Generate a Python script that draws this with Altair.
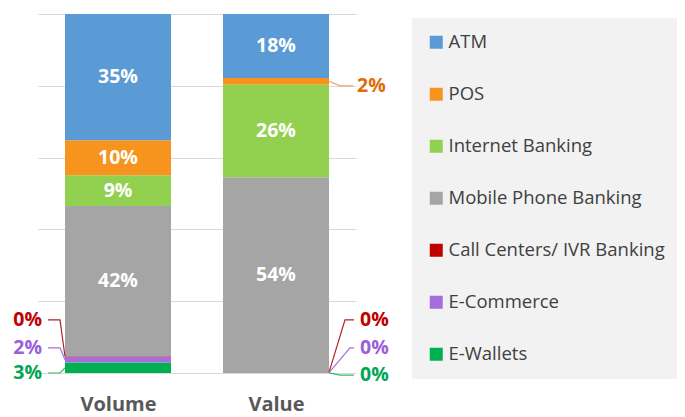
import altair as alt
import pandas as pd

# ---------------- data ----------------
categories = ["Volume", "Value"]
series = ["ATM", "POS", "Internet Banking", "Mobile Phone Banking",
          "Call Centers/ IVR Banking", "E-Commerce", "E-Wallets"]
volume_share = [35.2, 9.7, 8.6, 41.8, 0.2, 1.6, 2.9]
value_share = [17.8, 1.9, 25.8, 54.3, 0.05, 0.1, 0.05]

# ---------------- style ----------------
bar_colors = ["#5B9BD5", "#F7941D", "#92D050", "#A5A5A5", "#C00000", "#A66EDB", "#00B050"]
text_colors = ["#FFFFFF", "#E36C0A", "#FFFFFF", "#FFFFFF", "#C00000", "#9B5FD9", "#00A651"]
line_colors = ["#5B9BD5", "#F4A460", "#92D050", "#A5A5A5", "#B22222", "#A66EDB", "#3CB371"]
FONT = "Open Sans"
STEP_PX = 158.0          # band step in pixels (one category unit)
HALF = 53.0 / STEP_PX    # half bar width in category units
W, H = 318, 359

# external labels: (category, series) -> (label y in %, elbow px, line end px, text px)
external = {
    ("Volume", "Call Centers/ IVR Banking"): (14.8, 5, 17, 23),
    ("Volume", "E-Commerce"): (7.0, 5, 17, 23),
    ("Volume", "E-Wallets"): (0.0, 5, 17, 23),
    ("Value", "POS"): (80.0, 11, 24, 28),
    ("Value", "Call Centers/ IVR Banking"): (14.8, 16, 25, 31),
    ("Value", "E-Commerce"): (7.0, 21, 25, 31),
    ("Value", "E-Wallets"): (-0.6, 11, 25, 31),
}

# ---------------- build tables ----------------
rows = []
for ci, (cat, vals) in enumerate(zip(categories, [volume_share, value_share])):
    lookup = dict(zip(series, vals))
    base = 0.0
    for s in series[::-1]:
        v = lookup[s]
        si = series.index(s)
        rows.append(dict(category=cat, ci=ci, series=s, v=v, y0=base, y1=base + v,
                         mid=base + v / 2, label=f"{round(v):.0f}%",
                         x0=ci - HALF, x1=ci + HALF,
                         tcolor=text_colors[si], lcolor=line_colors[si]))
        base += v
df = pd.DataFrame(rows)

inside = df[~df.apply(lambda r: (r.category, r.series) in external, axis=1)].copy()

ext_text = []
ext_line = []
for (cat, s), (ly, elbow, end, tx) in external.items():
    r = df[(df.category == cat) & (df.series == s)].iloc[0]
    sign = -1 if r.ci == 0 else 1
    edge = r.ci + sign * HALF
    key = f"{cat}-{s}"
    ext_text.append(dict(key=key, x=edge + sign * tx / STEP_PX, y=ly, label=r.label,
                         tcolor=r.tcolor, side="right" if sign < 0 else "left"))
    pts = [(edge, r.mid), (edge + sign * elbow / STEP_PX, ly), (edge + sign * end / STEP_PX, ly)]
    for k, (px, py) in enumerate(pts):
        ext_line.append(dict(key=key, pt=k, x=px, y=py, lcolor=r.lcolor))
ext_text = pd.DataFrame(ext_text)
ext_line = pd.DataFrame(ext_line)

xscale = alt.Scale(domain=[-80 / STEP_PX, (W - 80) / STEP_PX], nice=False, zero=False)
yscale = alt.Scale(domain=[0, 100], nice=False, zero=False)
x_axis = alt.Axis(values=[0, 1], labelExpr="datum.value == 0 ? 'Volume' : 'Value'",
                  title=None, grid=False, ticks=False, domain=False,
                  labelFontSize=20, labelFontWeight="bold", labelColor="#595959",
                  labelFont=FONT, labelPadding=21)
y_axis = alt.Axis(values=[0, 20, 40, 60, 80, 100], labels=False, ticks=False,
                  domain=False, grid=True, gridColor="#D9D9D9", gridWidth=1, title=None)

bars = alt.Chart(df).mark_bar().encode(
    x=alt.X("x0:Q", scale=xscale, axis=x_axis),
    x2="x1:Q",
    y=alt.Y("y0:Q", scale=yscale, axis=y_axis),
    y2="y1:Q",
    color=alt.Color("series:N", sort=series,
                    scale=alt.Scale(domain=series, range=bar_colors),
                    legend=alt.Legend(title=None, orient="none", legendX=374, legendY=4,
                                      fillColor="#F2F2F2", padding=15, symbolType="square",
                                      symbolSize=169, symbolStrokeWidth=0,
                                      labelFont=FONT, labelFontSize=18.5, labelColor="#404040",
                                      labelOffset=3, rowPadding=33, labelLimit=400)),
)

def text_layer(data, align):
    return alt.Chart(data).mark_text(
        font=FONT, fontSize=19.5, fontWeight="bold", baseline="middle", align=align
    ).encode(
        x=alt.X("x:Q", scale=xscale, axis=x_axis),
        y=alt.Y("y:Q", scale=yscale, axis=y_axis),
        text="label:N",
        fill=alt.Fill("tcolor:N", scale=None),
    )

inside_text = alt.Chart(inside).mark_text(
    font=FONT, fontSize=19.5, fontWeight="bold", baseline="middle", align="center",
    color="#FFFFFF"
).encode(
    x=alt.X("ci:Q", scale=xscale, axis=x_axis),
    y=alt.Y("mid:Q", scale=yscale, axis=y_axis),
    text="label:N",
)

leaders = alt.Chart(ext_line).mark_line(strokeWidth=1.2).encode(
    x=alt.X("x:Q", scale=xscale, axis=x_axis),
    y=alt.Y("y:Q", scale=yscale, axis=y_axis),
    detail="key:N",
    order="pt:Q",
    stroke=alt.Stroke("lcolor:N", scale=None),
)

left_text = text_layer(ext_text[ext_text["side"] == "right"], "right")
right_text = text_layer(ext_text[ext_text["side"] == "left"], "left")

chart = alt.layer(bars, leaders, inside_text, left_text, right_text).properties(
    width=W, height=H,
    autosize=alt.AutoSizeParams(type="none"),
    padding={"left": 30, "top": 6, "right": 321, "bottom": 44},
).configure_view(stroke=None)

chart.save("out.html", embed_options={"renderer": "svg", "actions": False})
